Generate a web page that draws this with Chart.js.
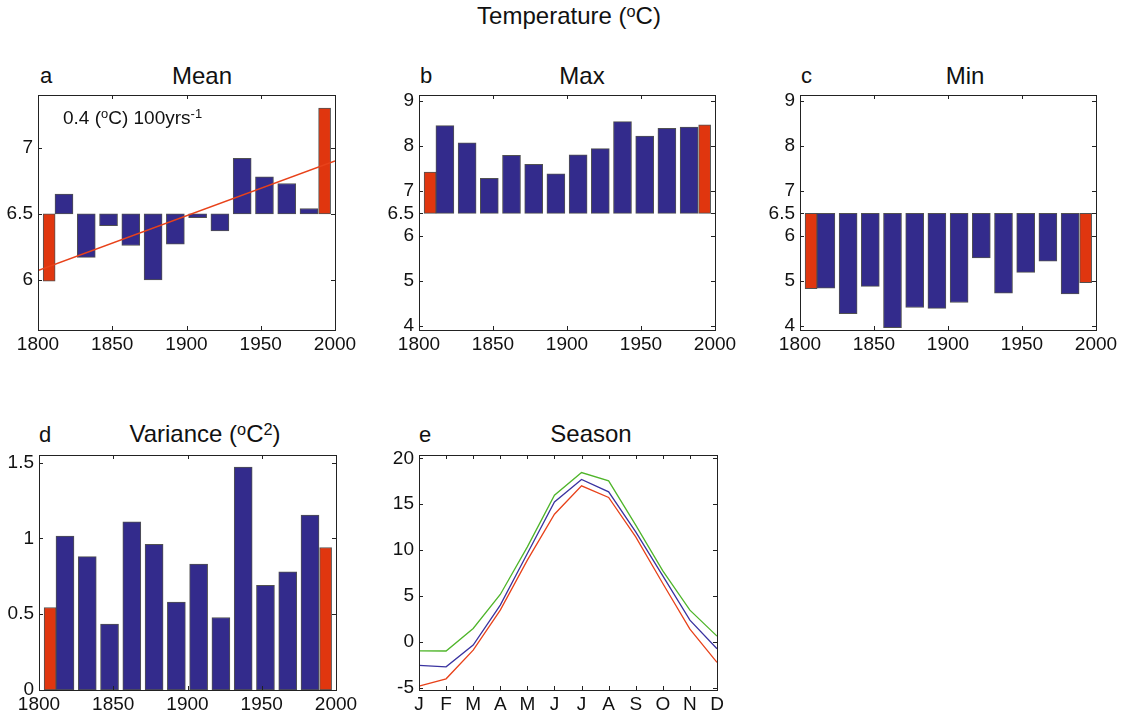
<!DOCTYPE html>
<html>
<head>
<meta charset="utf-8">
<script src="https://cdn.jsdelivr.net/npm/chart.js@4"></script>
<style>
  body { margin: 0; background: #fff; width: 1127px; height: 717px; overflow: hidden; position: relative; font-family: "Liberation Sans", Arial, sans-serif; color: #111; }
  canvas { position: absolute; }
  .txt { position: absolute; line-height: 1; white-space: nowrap; font-size: 22px; }
  .big { font-size: 24px; }
  .ctr { transform: translateX(-50%); }
  sup { font-size: 0.68em; vertical-align: 0.45em; line-height: 0; }
</style>
</head>
<body>
<div class="txt big ctr" style="left:569px; top:4px;">Temperature (<sup>o</sup>C)</div>

<div class="txt" style="left:40px; top:65px;">a</div>
<div class="txt big ctr" style="left:202px; top:64px;">Mean</div>
<div class="txt" style="left:420px; top:65px;">b</div>
<div class="txt big ctr" style="left:582px; top:64px;">Max</div>
<div class="txt" style="left:801px; top:65px;">c</div>
<div class="txt big ctr" style="left:965px; top:64px;">Min</div>
<div class="txt" style="left:39px; top:424px;">d</div>
<div class="txt big ctr" style="left:205px; top:422px;">Variance (<sup>o</sup>C<sup>2</sup>)</div>
<div class="txt" style="left:419px; top:424px;">e</div>
<div class="txt big ctr" style="left:591px; top:422px;">Season</div>

<canvas id="mean" width="365" height="281" style="left:0px; top:83px;"></canvas>
<canvas id="max" width="364" height="281" style="left:381px; top:83px;"></canvas>
<canvas id="min" width="364" height="281" style="left:762px; top:83px;"></canvas>
<canvas id="variance" width="365" height="274" style="left:1px; top:443px;"></canvas>
<canvas id="season" width="364" height="274" style="left:381px; top:443px;"></canvas>

<div class="txt" style="left:63px; top:108px; font-size:19px;">0.4 (<sup>o</sup>C) 100yrs<sup>-1</sup></div>

<script>
// bar positions (middle year of each period)
let blueYears = [1817.5, 1832.5, 1847.5, 1862.5, 1877.5, 1892.5, 1907.5, 1922.5, 1937.5, 1952.5, 1967.5, 1982.5];
let redYears = [1807.5, 1993];

let meanBlue = [6.65, 6.17, 6.41, 6.26, 6.00, 6.27, 6.47, 6.37, 6.92, 6.78, 6.73, 6.54];
let meanRed = [5.99, 7.30];
let trendYears = [1800, 2000];
let trendVals = [6.07, 6.90];

let maxBlue = [8.45, 8.07, 7.28, 7.79, 7.59, 7.38, 7.80, 7.94, 8.54, 8.22, 8.39, 8.42];
let maxRed = [7.42, 8.47];

let minBlue = [4.84, 4.27, 4.88, 3.96, 4.41, 4.39, 4.52, 5.51, 4.73, 5.19, 5.44, 4.71];
let minRed = [4.83, 4.96];

let varBlue = [1.015, 0.88, 0.434, 1.11, 0.96, 0.58, 0.83, 0.478, 1.47, 0.69, 0.78, 1.153];
let varRed = [0.544, 0.94];

let months = ['J', 'F', 'M', 'A', 'M', 'J', 'J', 'A', 'S', 'O', 'N', 'D'];
let seasonGreen = [-0.98, -1.0, 1.46, 5.16, 10.35, 15.98, 18.45, 17.54, 12.71, 7.73, 3.45, 0.62];
let seasonBlue = [-2.57, -2.72, -0.36, 4.0, 9.63, 15.25, 17.69, 16.34, 11.98, 7.19, 2.36, -0.76];
let seasonRed = [-4.83, -4.03, -0.9, 3.45, 8.9, 13.91, 17.0, 15.73, 11.44, 6.36, 1.38, -2.24];

let yearTicks = [1800, 1850, 1900, 1950, 2000];

const BLUE = '#332b8c';
const RED = '#e0360f';
const EDGE = 'rgba(50,50,50,0.85)';
const FONT = { family: '"Liberation Sans", Arial, sans-serif', size: 19 };

// draws the box round the plot and the inside tick marks
const boxPlugin = {
    id: 'box',
    afterDraw(chart) {
        const ctx = chart.ctx;
        const a = chart.chartArea;
        const x = chart.scales.x, y = chart.scales.y;
        ctx.save();
        ctx.strokeStyle = '#222';
        ctx.lineWidth = 1;
        ctx.strokeRect(Math.round(a.left) + 0.5, Math.round(a.top) + 0.5,
            Math.round(a.right - a.left), Math.round(a.bottom - a.top));
        ctx.beginPath();
        x.ticks.forEach((t, i) => {
            let px = Math.round(x.getPixelForTick(i)) + 0.5;
            ctx.moveTo(px, a.bottom); ctx.lineTo(px, a.bottom - 4);
            ctx.moveTo(px, a.top); ctx.lineTo(px, a.top + 4);
        });
        y.ticks.forEach((t, i) => {
            let py = Math.round(y.getPixelForTick(i)) + 0.5;
            ctx.moveTo(a.left, py); ctx.lineTo(a.left + 4, py);
            ctx.moveTo(a.right, py); ctx.lineTo(a.right - 4, py);
        });
        ctx.stroke();
        ctx.restore();
    }
};

function axes(xOpts, yMin, yMax, yTicks, xHeight) {
    return {
        x: Object.assign({
            grid: { display: false, drawTicks: false },
            border: { display: false },
            ticks: { color: '#111', font: FONT, padding: 3, autoSkip: false, maxRotation: 0 },
            afterFit: s => { s.height = xHeight; s.paddingLeft = 0; s.paddingRight = 0; }
        }, xOpts),
        y: {
            type: 'linear',
            min: yMin,
            max: yMax,
            grid: { display: false, drawTicks: false },
            border: { display: false },
            ticks: { color: '#111', font: FONT, padding: 5, autoSkip: false, callback: v => String(v) },
            afterBuildTicks: s => { s.ticks = yTicks.map(v => ({ value: v })); },
            afterFit: s => { s.width = 38; s.paddingTop = 0; s.paddingBottom = 0; }
        }
    };
}

function barSets(base, blueVals, redVals) {
    return [
        {
            type: 'bar',
            data: redYears.map((yr, i) => ({ x: yr, y: base === null ? redVals[i] : [base, redVals[i]] })),
            backgroundColor: RED, borderColor: EDGE, borderWidth: 1, borderSkipped: false,
            barThickness: 12, grouped: false, order: 1
        },
        {
            type: 'bar',
            data: blueYears.map((yr, i) => ({ x: yr, y: base === null ? blueVals[i] : [base, blueVals[i]] })),
            backgroundColor: BLUE, borderColor: EDGE, borderWidth: 1, borderSkipped: false,
            barThickness: 18, grouped: false, order: 2
        }
    ];
}

function createBarPanel(element, base, blueVals, redVals, yMin, yMax, yTicks, xHeight, extra) {
    let datasets = barSets(base, blueVals, redVals);
    if (extra) datasets.unshift(extra);
    let xOpts = {
        type: 'linear', min: 1800, max: 2000, offset: false,
        afterBuildTicks: s => { s.ticks = yearTicks.map(v => ({ value: v })); }
    };
    let chart = new Chart(document.getElementById(element), {
        data: { datasets: datasets },
        options: {
            responsive: false,
            animation: false,
            layout: { padding: { left: 0, top: 12, right: 30, bottom: 0 } },
            plugins: { legend: { display: false }, tooltip: { enabled: false } },
            scales: axes(xOpts, yMin, yMax, yTicks, xHeight)
        },
        plugins: [boxPlugin]
    });
    chart.options.scales.x.ticks.callback = v => String(v);
    chart.update();
    return chart;
}

// a: mean, with the trend line
createBarPanel('mean', 6.5, meanBlue, meanRed, 5.62, 7.40, [6, 6.5, 7], 34, {
    type: 'line',
    data: trendYears.map((yr, i) => ({ x: yr, y: trendVals[i] })),
    borderColor: '#e8421a', borderWidth: 1.5, pointRadius: 0, order: 0
});
createBarPanel('max', 6.5, maxBlue, maxRed, 3.91, 9.13, [4, 5, 6, 6.5, 7, 8, 9], 34);
createBarPanel('min', 6.5, minBlue, minRed, 3.91, 9.13, [4, 5, 6, 6.5, 7, 8, 9], 34);
createBarPanel('variance', null, varBlue, varRed, 0, 1.55, [0, 0.5, 1, 1.5], 27);

// e: season
new Chart(document.getElementById('season'), {
    type: 'line',
    data: {
        labels: months,
        datasets: [
            { data: seasonGreen, borderColor: '#4fb52a', borderWidth: 1.3, pointRadius: 0, tension: 0 },
            { data: seasonBlue, borderColor: '#3a33a0', borderWidth: 1.3, pointRadius: 0, tension: 0 },
            { data: seasonRed, borderColor: '#e8421a', borderWidth: 1.3, pointRadius: 0, tension: 0 }
        ]
    },
    options: {
        responsive: false,
        animation: false,
        layout: { padding: { left: 0, top: 12, right: 28, bottom: 0 } },
        plugins: { legend: { display: false }, tooltip: { enabled: false } },
        scales: axes({ type: 'category', offset: false }, -5.25, 20.36, [-5, 0, 5, 10, 15, 20], 27)
    },
    plugins: [boxPlugin]
});
</script>
</body>
</html>
